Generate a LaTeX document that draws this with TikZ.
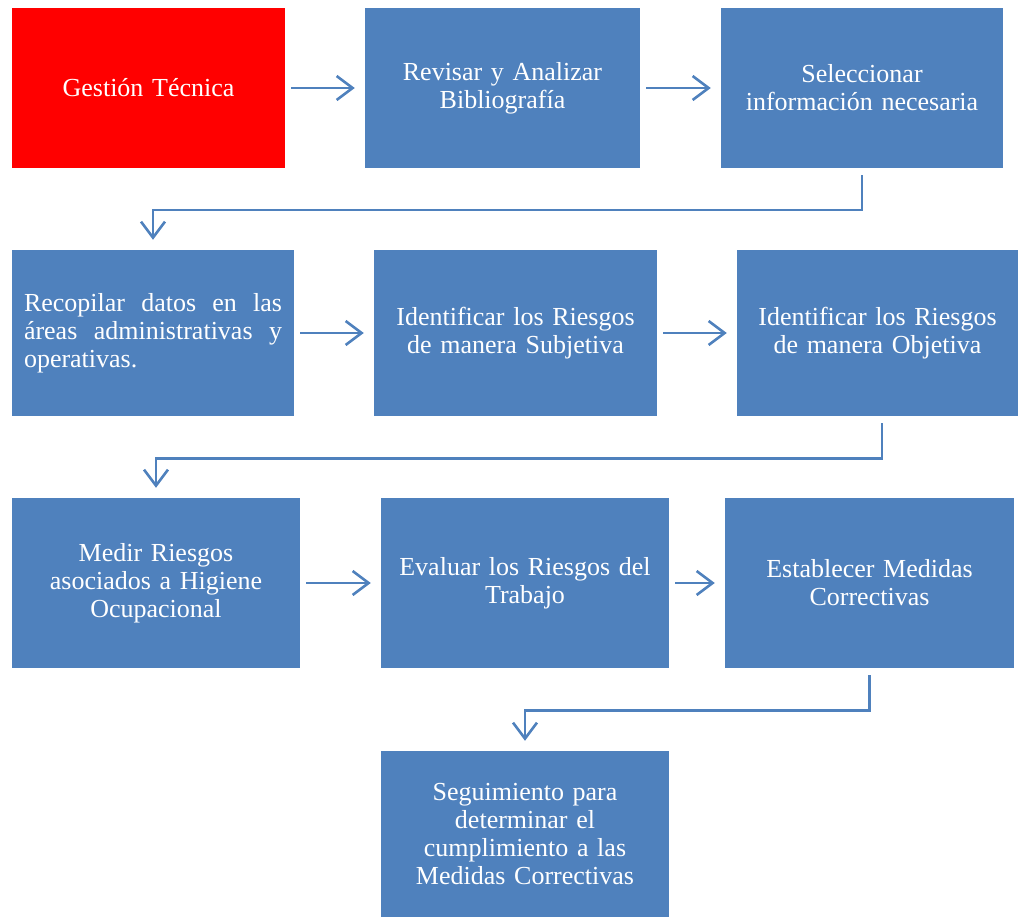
\documentclass[tikz,border=0pt]{standalone}
\usepackage{fontspec}
\setmainfont{Liberation Serif}
\usetikzlibrary{arrows.meta}
\definecolor{boxblue}{HTML}{4F81BD}
\definecolor{boxred}{HTML}{FF0000}
\begin{document}
\begin{tikzpicture}[x=1pt,y=-1pt,
  box/.style={fill=boxblue, draw=none, text=white, font=\fontsize{26}{28}\selectfont, align=center, inner sep=0pt},
  conn/.style={draw=boxblue, line width=2.6pt, shorten <=6pt, shorten >=10pt, -{Straight Barb[length=16pt,width=24pt]}}]
\useasboundingbox (0,0) rectangle (1019,917);
% row 1
\node[box, fill=boxred, minimum width=273pt, minimum height=160pt, text width=265pt] (A) at (148.5,88) {Gestión Técnica};
\node[box, minimum width=275pt, minimum height=160pt, text width=265pt] (B) at (502.5,88) {Revisar y Analizar\\Bibliografía};
\node[box, minimum width=282pt, minimum height=160pt, text width=275pt] (C) at (862,88) {Seleccionar\\información necesaria};
% row 2
\node[box, align=left, minimum width=282pt, minimum height=166pt, text width=258pt] (D) at (153,333) {\makebox[258pt][s]{Recopilar\hfill datos\hfill en\hfill las}\\\makebox[258pt][s]{áreas\hfill administrativas\hfill y}\\operativas.};
\node[box, minimum width=283pt, minimum height=166pt, text width=275pt] (E) at (515.5,333) {Identificar los Riesgos\\de manera Subjetiva};
\node[box, minimum width=281pt, minimum height=166pt, text width=275pt] (F) at (877.5,333) {Identificar los Riesgos\\de manera Objetiva};
% row 3
\node[box, minimum width=288pt, minimum height=170pt, text width=280pt] (G) at (156,583) {Medir Riesgos\\asociados a Higiene\\Ocupacional};
\node[box, minimum width=288pt, minimum height=170pt, text width=280pt] (H) at (525,583) {Evaluar los Riesgos del\\Trabajo};
\node[box, minimum width=289pt, minimum height=170pt, text width=280pt] (I) at (869.5,583) {Establecer Medidas\\Correctivas};
% row 4
\node[box, minimum width=288pt, minimum height=166pt, text width=280pt] (J) at (525,834) {Seguimiento para\\determinar el\\cumplimiento a las\\Medidas Correctivas};
% connectors
\draw[conn] (A) -- (B);
\draw[conn] (B) -- (C);
\draw[conn] (D) -- (E);
\draw[conn] (E) -- (F);
\draw[conn] (G) -- (H);
\draw[conn] (H) -- (I);
\draw[conn, shorten <=0pt] ([yshift=-7pt]C.south) -- ++(0,35) -| (D.north);
\draw[conn, shorten <=0pt] ([yshift=-7pt,xshift=4.5pt]F.south) -- ++(0,35) -| (G.north);
\draw[conn, shorten <=0pt] ([yshift=-7pt]I.south) -- ++(0,35) -| (J.north);
\end{tikzpicture}
\end{document}
